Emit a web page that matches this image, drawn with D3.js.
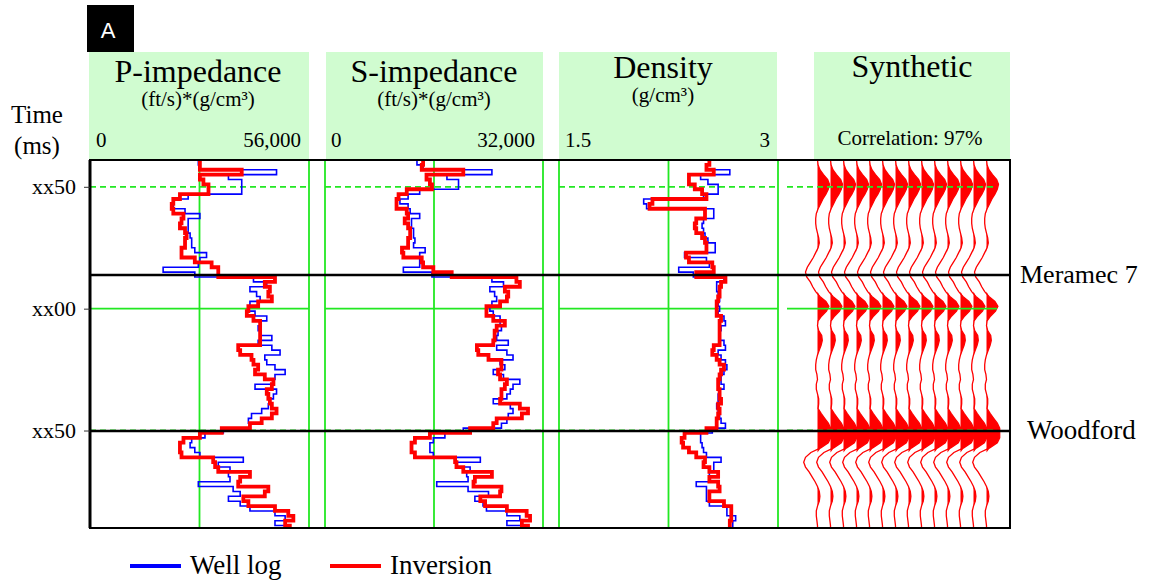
<!DOCTYPE html>
<html>
<head>
<meta charset="utf-8">
<script src="https://cdn.jsdelivr.net/npm/d3@7"></script>
<style>
  body { margin: 0; background: #fff; }
  svg { display: block; }
  text { font-family: "Liberation Serif", "Times New Roman", serif; fill: #000; }
</style>
</head>
<body>
<svg id="chart" width="1149" height="583"></svg>
<script>
// ---- time grid of the logs (ms) ----
const startTime = 1039;
const sampleStep = 2;
const endTime = 1190;
const timeTicks = [1050, 1100, 1150];
const timeTickLabels = ["xx50", "xx00", "xx50"];
const horizonNames = ["Meramec 7", "Woodford"];
const horizonTimes = [1086.2, 1150.2];

// ---- P-impedance, (ft/s)*(g/cm³) ----
const pRange = [0, 56000];
const pRangeLabels = ["0", "56,000"];
const pWell = [27700, 28100, 47700, 35400, 38800, 38800, 38800, 25100, 21300, 21300,
  24300, 28100, 25100, 25100, 25100, 25600, 26000, 26000, 26800, 29800,
  28100, 27700, 18700, 26800, 41800, 45200, 40900, 42600, 43500, 40900,
  40500, 42200, 45200, 43500, 43000, 43500, 46500, 43000, 46500, 48600,
  44700, 45200, 47300, 49900, 47300, 46900, 42200, 47700, 46900, 46000,
  45600, 43900, 41300, 40500, 40900, 34100, 29400, 26000, 25600, 26800,
  28100, 39200, 32800, 35800, 35400, 35800, 27700, 36600, 38400, 35400,
  38400, 40900, 47300, 49900, 47300, 49900];
const pInv = [28100, 28100, 38800, 28100, 29000, 30300, 30300, 23000, 21300, 20900,
  21300, 23900, 23400, 23000, 24300, 24700, 24300, 24300, 23400, 23400,
  26800, 31100, 32800, 32800, 47300, 44700, 46000, 45600, 46500, 43000,
  40500, 40100, 41800, 43500, 43500, 43500, 43500, 43500, 37900, 38400,
  41300, 41800, 43000, 42200, 44700, 46900, 46500, 45200, 45600, 46000,
  46500, 47700, 46500, 43900, 40900, 33700, 28100, 23900, 23000, 23000,
  23400, 31500, 32000, 32800, 40900, 38400, 37900, 45600, 44700, 39200,
  40500, 47300, 50700, 52000, 49900, 51100];

// ---- S-impedance, (ft/s)*(g/cm³) ----
const sRange = [0, 32000];
const sRangeLabels = ["0", "32,000"];
const sWell = [13500, 14400, 24500, 17900, 19600, 19600, 13900, 12200, 11000, 12200,
  12500, 13900, 12700, 12700, 13000, 13000, 13200, 13000, 14700, 13900,
  13900, 13900, 11500, 15700, 24500, 26200, 24200, 24900, 25200, 24500,
  24200, 24700, 25700, 25700, 25900, 25400, 25200, 26900, 25200, 26700,
  27600, 25700, 26400, 24700, 26200, 28600, 27600, 27200, 26700, 24700,
  27200, 27600, 26900, 26700, 25900, 20300, 17600, 15900, 15400, 15400,
  15900, 22800, 19300, 21300, 20800, 21000, 16400, 21000, 24000, 22000,
  23200, 23700, 26700, 28600, 26700, 28900];
const sInv = [14400, 14200, 20300, 14900, 15400, 15700, 12000, 10800, 10500, 10500,
  12000, 12200, 11700, 12200, 12500, 12500, 12200, 12200, 11300, 11500,
  14200, 14400, 15900, 18600, 28100, 28600, 26400, 26900, 26700, 25700,
  23700, 23700, 24700, 26400, 25200, 24900, 24900, 24700, 22300, 22500,
  24000, 25900, 25900, 25400, 25700, 26700, 26400, 25900, 25900, 25700,
  28600, 29800, 28900, 25200, 24700, 21300, 15400, 13200, 12700, 12700,
  13200, 19100, 19300, 20300, 24500, 22000, 21800, 25900, 25700, 22800,
  23500, 26700, 29600, 30100, 28900, 29800];

// ---- Density, g/cm³ ----
const dRange = [1.5, 3];
const dRangeLabels = ["1.5", "3"];
const dWell = [2.53, 2.51, 2.67, 2.47, 2.52, 2.59, 2.59, 2.49, 2.08, 2.10,
  2.56, 2.56, 2.49, 2.48, 2.49, 2.50, 2.52, 2.57, 2.57, 2.36,
  2.51, 2.53, 2.32, 2.42, 2.63, 2.58, 2.58, 2.59, 2.60, 2.59,
  2.60, 2.59, 2.63, 2.64, 2.61, 2.60, 2.60, 2.63, 2.64, 2.59,
  2.61, 2.64, 2.65, 2.63, 2.61, 2.61, 2.63, 2.60, 2.59, 2.59,
  2.58, 2.59, 2.60, 2.61, 2.64, 2.55, 2.47, 2.47, 2.48, 2.49,
  2.51, 2.61, 2.56, 2.56, 2.53, 2.53, 2.44, 2.51, 2.51, 2.51,
  2.53, 2.65, 2.65, 2.71, 2.69, 2.69];
const dInv = [2.53, 2.51, 2.56, 2.39, 2.39, 2.43, 2.48, 2.51, 2.14, 2.12,
  2.50, 2.50, 2.44, 2.43, 2.44, 2.48, 2.50, 2.51, 2.51, 2.37,
  2.39, 2.55, 2.56, 2.44, 2.64, 2.61, 2.60, 2.60, 2.59, 2.58,
  2.58, 2.58, 2.61, 2.60, 2.60, 2.60, 2.60, 2.60, 2.56, 2.55,
  2.58, 2.60, 2.63, 2.61, 2.60, 2.59, 2.59, 2.60, 2.60, 2.61,
  2.59, 2.60, 2.59, 2.58, 2.58, 2.51, 2.36, 2.34, 2.35, 2.39,
  2.44, 2.50, 2.49, 2.53, 2.59, 2.53, 2.59, 2.60, 2.53, 2.53,
  2.63, 2.68, 2.68, 2.68, 2.67, 2.67];

// ---- Synthetic trace (normalised amplitude), repeated across the panel ----
const synthAmp = [0.0, 0.05, 0.2, 0.5, 0.85, 1.0, 0.9, 0.7, 0.45, 0.25,
  0.05, -0.1, -0.15, -0.15, -0.1, 0.0, 0.1, 0.15, 0.05, -0.15,
  -0.35, -0.6, -0.85, -1.0, -0.9, -0.6, -0.4, -0.15, 0.2, 0.7,
  0.95, 0.75, 0.35, 0.05, 0.0, 0.1, 0.35, 0.4, 0.3, 0.15,
  0.0, -0.1, -0.15, -0.15, -0.05, 0.0, -0.1, -0.1, 0.0, 0.1,
  0.1, 0.05, 0.3, 0.6, 0.9, 1.1, 1.1, 1.1, 0.9, 0.3,
  -0.55, -1.0, -1.15, -1.0, -0.7, -0.45, -0.2, 0.0, 0.15, 0.2,
  0.15, 0.0, -0.1, -0.1, -0.05, 0.0];
const synthTraceCount = 14;
const correlationLabel = "Correlation: 97%";

const legendLabels = ["Well log", "Inversion"];

// ---- styling ----
const GREEN = "#22e822";
const HEADER = "#d0fcd0";
const WELL = "#0000ff";
const INV = "#ff0000";

const svg = d3.select("#chart");
const plotTop = 160, plotBottom = 528, plotLeft = 90, plotRight = 1010;
const y = d3.scaleLinear().domain([startTime, endTime]).range([plotTop, plotBottom]);

svg.append("defs").append("clipPath").attr("id", "plotClip")
  .append("rect").attr("x", plotLeft).attr("y", plotTop).attr("width", plotRight - plotLeft).attr("height", plotBottom - plotTop);

// panel badge
svg.append("rect").attr("x", 87).attr("y", 5).attr("width", 47).attr("height", 47).attr("fill", "#000");
svg.append("text").attr("x", 108).attr("y", 38).attr("text-anchor", "middle")
  .style("font-family", "'Liberation Sans', Arial, sans-serif").style("font-size", "22px").style("fill", "#fff").text("A");

// time axis title
svg.append("text").attr("x", 37).attr("y", 123).attr("text-anchor", "middle").style("font-size", "25px").text("Time");
svg.append("text").attr("x", 37).attr("y", 154).attr("text-anchor", "middle").style("font-size", "25px").text("(ms)");

const tracks = [
  { title: "P-impedance", unit: "(ft/s)*(g/cm³)", domain: pRange, labels: pRangeLabels, x0: 90, x1: 309, hx0: 89, hx1: 309, well: pWell, inv: pInv, titleY: 82, titleX: 198 },
  { title: "S-impedance", unit: "(ft/s)*(g/cm³)", domain: sRange, labels: sRangeLabels, x0: 325, x1: 543, hx0: 326, hx1: 543, well: sWell, inv: sInv, titleY: 82, titleX: 434 },
  { title: "Density", unit: "(g/cm³)", domain: dRange, labels: dRangeLabels, x0: 559, x1: 778, hx0: 559, hx1: 777, well: dWell, inv: dInv, titleY: 78, titleX: 663 }
];

const gridLayer = svg.append("g");
const logLayer = svg.append("g").attr("clip-path", "url(#plotClip)");

function stepLine(x, values) {
  const pts = values.map((v, i) => [v, startTime + i * sampleStep]);
  pts.push([values[values.length - 1], endTime]);
  return d3.line().x(d => x(d[0])).y(d => y(d[1])).curve(d3.curveStepBefore)(pts);
}

function horizontalGrid(x0, x1) {
  timeTicks.forEach((t, i) => {
    gridLayer.append("line")
      .attr("x1", x0).attr("x2", x1).attr("y1", y(t)).attr("y2", y(t))
      .attr("stroke", GREEN).attr("stroke-width", 1.8)
      .attr("stroke-dasharray", i === 1 ? null : "6,4");
  });
}

tracks.forEach(tr => {
  const x = d3.scaleLinear().domain(tr.domain).range([tr.x0, tr.x1]);
  svg.append("rect").attr("x", tr.hx0).attr("y", 52).attr("width", tr.hx1 - tr.hx0).attr("height", plotTop - 52).attr("fill", HEADER);
  svg.append("text").attr("x", tr.titleX).attr("y", tr.titleY).attr("text-anchor", "middle").style("font-size", "32px").text(tr.title);
  svg.append("text").attr("x", tr.titleX).attr("y", tr.titleY + 24).attr("text-anchor", "middle").style("font-size", "21px").text(tr.unit);
  svg.append("text").attr("x", tr.x0 + 6).attr("y", 147).style("font-size", "21px").text(tr.labels[0]);
  svg.append("text").attr("x", tr.x1 - 8).attr("y", 147).attr("text-anchor", "end").style("font-size", "21px").text(tr.labels[1]);

  const mid = (tr.domain[0] + tr.domain[1]) / 2;
  [tr.domain[0], mid, tr.domain[1]].forEach(v => {
    gridLayer.append("line").attr("x1", x(v)).attr("x2", x(v)).attr("y1", plotTop).attr("y2", plotBottom)
      .attr("stroke", GREEN).attr("stroke-width", 1.8);
  });
  horizontalGrid(tr.x0, tr.x1);

  logLayer.append("path").attr("d", stepLine(x, tr.well)).attr("fill", "none")
    .attr("stroke", WELL).attr("stroke-width", 1.6);
  logLayer.append("path").attr("d", stepLine(x, tr.inv)).attr("fill", "none")
    .attr("stroke", INV).attr("stroke-width", 3.8).attr("stroke-linejoin", "miter");
});

// ---- synthetic panel ----
svg.append("rect").attr("x", 814).attr("y", 52).attr("width", 196).attr("height", plotTop - 52).attr("fill", HEADER);
svg.append("text").attr("x", 912).attr("y", 77).attr("text-anchor", "middle").style("font-size", "32px").text("Synthetic");
svg.append("text").attr("x", 910).attr("y", 145).attr("text-anchor", "middle").style("font-size", "21px").text(correlationLabel);

const traceX = d3.scalePoint().domain(d3.range(synthTraceCount)).range([817.5, 986.5]);
const amp = d3.scaleLinear().domain([-1, 1]).range([-12, 12]);
const synthPts = synthAmp.map((a, i) => ({ a, t: startTime + i * sampleStep }));
synthPts.push({ a: synthAmp[synthAmp.length - 1], t: endTime });

const synthLayer = svg.append("g").attr("clip-path", "url(#plotClip)");
traceX.domain().forEach(k => {
  const bx = traceX(k);
  synthLayer.append("path")
    .attr("d", d3.area().y(d => y(d.t)).x0(bx).x1(d => bx + amp(Math.max(0, d.a)))(synthPts))
    .attr("fill", INV);
  synthLayer.append("path")
    .attr("d", d3.line().y(d => y(d.t)).x(d => bx + amp(d.a))(synthPts))
    .attr("fill", "none").attr("stroke", INV).attr("stroke-width", 1.3);
});
// grid across the synthetic drawn above the traces
timeTicks.forEach((t, i) => {
  svg.append("line").attr("x1", 787).attr("x2", 997).attr("y1", y(t)).attr("y2", y(t))
    .attr("stroke", GREEN).attr("stroke-width", 1.8)
    .attr("stroke-dasharray", i === 1 ? null : "6,4");
});

// ---- frame, horizons ----
svg.append("rect").attr("x", plotLeft).attr("y", plotTop).attr("width", plotRight - plotLeft).attr("height", plotBottom - plotTop)
  .attr("fill", "none").attr("stroke", "#000").attr("stroke-width", 2);
svg.append("line").attr("x1", plotLeft).attr("x2", plotLeft).attr("y1", plotTop).attr("y2", plotBottom)
  .attr("stroke", "#000").attr("stroke-width", 3);
horizonTimes.forEach((t, i) => {
  svg.append("line").attr("x1", plotLeft).attr("x2", plotRight).attr("y1", y(t)).attr("y2", y(t))
    .attr("stroke", "#000").attr("stroke-width", 2.5);
  svg.append("text").attr("x", i === 0 ? 1020 : 1027).attr("y", y(t) + 8).style("font-size", i === 0 ? "26px" : "27px").text(horizonNames[i]);
});

// ---- time axis ----
const axis = svg.append("g").attr("transform", `translate(${plotLeft},0)`)
  .call(d3.axisLeft(y).tickValues(timeTicks).tickFormat((d, i) => timeTickLabels[i]).tickSize(6).tickPadding(8));
axis.select(".domain").remove();
axis.selectAll("line").attr("stroke", "#333");
axis.selectAll("text").style("font-family", "'Liberation Serif', 'Times New Roman', serif").style("font-size", "22px");

// ---- legend ----
const legend = svg.append("g");
[[WELL, 130, 190], [INV, 330, 390]].forEach(([c, lx, tx], i) => {
  legend.append("line").attr("x1", lx).attr("x2", lx + 51).attr("y1", 566).attr("y2", 566)
    .attr("stroke", c).attr("stroke-width", 4);
  legend.append("text").attr("x", tx).attr("y", 574).style("font-size", "27px").text(legendLabels[i]);
});
</script>
</body>
</html>
